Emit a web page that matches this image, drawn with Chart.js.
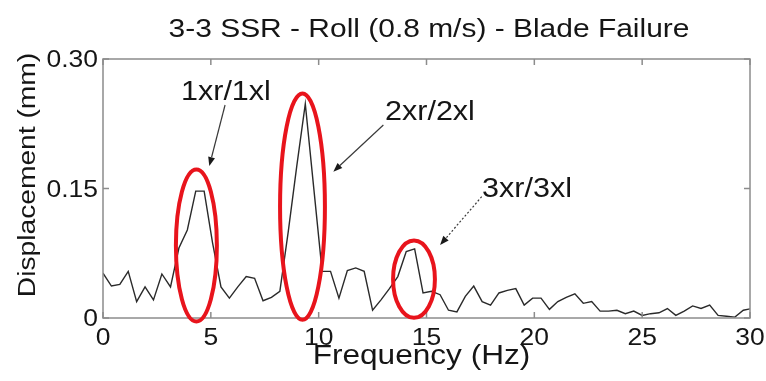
<!DOCTYPE html>
<html>
<head>
<meta charset="utf-8">
<script src="https://cdn.jsdelivr.net/npm/chart.js@4/dist/chart.umd.min.js"></script>
<style>
  html, body { margin: 0; padding: 0; background: #ffffff; }
  #wrap { width: 766px; height: 381px; }
</style>
</head>
<body>
<div id="wrap"><canvas id="c" width="766" height="381"></canvas></div>
<script>
// Spectrum of the roll displacement, one point per frequency bin
const freqHz = [0.00,0.39,0.78,1.17,1.56,1.95,2.34,2.73,3.13,3.52,
  3.91,4.30,4.69,5.08,5.47,5.86,6.25,6.64,7.03,7.42,
  7.81,8.20,8.59,8.98,9.38,9.77,10.16,10.55,10.94,11.33,
  11.72,12.11,12.50,12.89,13.28,13.67,14.06,14.45,14.84,15.23,
  15.63,16.02,16.41,16.80,17.19,17.58,17.97,18.36,18.75,19.14,
  19.53,19.92,20.31,20.70,21.09,21.48,21.88,22.27,22.66,23.05,
  23.44,23.83,24.22,24.61,25.00,25.39,25.78,26.17,26.56,26.95,
  27.34,27.73,28.13,28.52,28.91,29.30,29.69,30.08];
const dispMm = [0.052,0.037,0.039,0.054,0.019,0.036,0.021,0.051,0.036,0.081,
  0.102,0.147,0.147,0.087,0.036,0.023,0.036,0.048,0.046,0.020,
  0.024,0.031,0.100,0.175,0.248,0.151,0.054,0.054,0.023,0.055,
  0.058,0.054,0.009,0.021,0.034,0.048,0.077,0.080,0.029,0.031,
  0.027,0.009,0.007,0.025,0.037,0.019,0.015,0.029,0.032,0.034,
  0.015,0.023,0.023,0.010,0.019,0.024,0.028,0.017,0.019,0.008,
  0.008,0.009,0.005,0.008,0.003,0.005,0.006,0.011,0.003,0.008,
  0.014,0.011,0.015,0.003,0.002,0.001,0.009,0.011];

const xTicks = [0, 5, 10, 15, 20, 25, 30];
const xTickLabels = ['0', '5', '10', '15', '20', '25', '30'];
const yTicks = [0, 0.15, 0.30];
const yTickLabels = ['0', '0.15', '0.30'];

const titleText = '3-3 SSR - Roll (0.8 m/s) - Blade Failure';
const xTitle = 'Frequency (Hz)';
const yTitle = 'Displacement (mm)';

// Harmonic callouts: label text and anchor (Hz, mm), arrow tail -> head,
// and the ring drawn round each peak (centre and half-axes in Hz / mm)
const peakLabels = ['1xr/1xl', '2xr/2xl', '3xr/3xl'];
const labelAt = [[5.70, 0.2525], [15.16, 0.2299], [19.66, 0.1407]];
const arrowFrom = [[5.66, 0.2467], [13.00, 0.2236], [17.56, 0.1405]];
const arrowTo = [[4.93, 0.1761], [10.68, 0.1695], [15.63, 0.0846]];
const arrowDash = [[], [], [2, 2]];
const ringCentre = [[4.33, 0.084], [9.25, 0.129], [14.42, 0.045]];
const ringRadius = [[0.95, 0.088], [1.04, 0.131], [0.97, 0.0448]];

const FONT = '"Liberation Sans", Arial, Helvetica, sans-serif';
const INK = '#151515';

const points = freqHz.map((f, i) => ({ x: f, y: dispMm[i] }));

// text in a slightly wide Helvetica-like face: stretched along its run
function text(ctx, str, x, y, size, sx, align, rot) {
  ctx.save();
  ctx.translate(x, y);
  if (rot) ctx.rotate(rot);
  ctx.scale(sx, 1);
  ctx.font = size + 'px ' + FONT;
  ctx.fillStyle = INK;
  ctx.textAlign = align;
  ctx.textBaseline = 'alphabetic';
  ctx.fillText(str, 0, 0);
  ctx.restore();
}

function arrow(ctx, x0, y0, x1, y1, dash) {
  ctx.save();
  ctx.strokeStyle = '#3a3a3a';
  ctx.fillStyle = '#1a1a1a';
  ctx.lineWidth = 1.2;
  ctx.setLineDash(dash);
  const ang = Math.atan2(y1 - y0, x1 - x0);
  const hl = 9, hw = 3.5;
  const bx = x1 - hl * Math.cos(ang), by = y1 - hl * Math.sin(ang);
  ctx.beginPath();
  ctx.moveTo(x0, y0);
  ctx.lineTo(bx, by);
  ctx.stroke();
  ctx.setLineDash([]);
  ctx.beginPath();
  ctx.moveTo(x1, y1);
  ctx.lineTo(bx + hw * Math.sin(ang), by - hw * Math.cos(ang));
  ctx.lineTo(bx - hw * Math.sin(ang), by + hw * Math.cos(ang));
  ctx.closePath();
  ctx.fill();
  ctx.restore();
}

const overlay = {
  id: 'overlay',
  afterDatasetsDraw(chart) {
    const { ctx, chartArea: a, scales: { x, y } } = chart;
    ctx.save();

    // axes box with inward tick marks on all four sides
    ctx.strokeStyle = '#8c8c8c';
    ctx.lineWidth = 1.5;
    ctx.strokeRect(a.left, a.top, a.right - a.left, a.bottom - a.top);
    ctx.beginPath();
    xTicks.forEach(v => {
      const px = x.getPixelForValue(v);
      ctx.moveTo(px, a.bottom); ctx.lineTo(px, a.bottom - 6);
      ctx.moveTo(px, a.top); ctx.lineTo(px, a.top + 6);
    });
    yTicks.forEach(v => {
      const py = y.getPixelForValue(v);
      ctx.moveTo(a.left, py); ctx.lineTo(a.left + 6, py);
      ctx.moveTo(a.right, py); ctx.lineTo(a.right - 6, py);
    });
    ctx.stroke();

    // tick labels
    xTicks.forEach((v, i) => text(ctx, xTickLabels[i], x.getPixelForValue(v), a.bottom + 26.5, 23, 1.15, 'center'));
    yTicks.forEach((v, i) => text(ctx, yTickLabels[i], a.left - 5, y.getPixelForValue(v) + 8.2, 23, 1.15, 'right'));

    // red rings round the harmonic peaks
    ctx.strokeStyle = '#e8141c';
    ctx.lineWidth = 4;
    ringCentre.forEach((c, i) => {
      const cx = x.getPixelForValue(c[0]);
      const cy = y.getPixelForValue(c[1]);
      const rx = x.getPixelForValue(c[0] + ringRadius[i][0]) - cx;
      const ry = cy - y.getPixelForValue(c[1] + ringRadius[i][1]);
      ctx.beginPath();
      ctx.ellipse(cx, cy, rx, ry, 0, 0, Math.PI * 2);
      ctx.stroke();
    });

    // callout arrows and labels
    peakLabels.forEach((t, i) => {
      arrow(ctx,
        x.getPixelForValue(arrowFrom[i][0]), y.getPixelForValue(arrowFrom[i][1]),
        x.getPixelForValue(arrowTo[i][0]), y.getPixelForValue(arrowTo[i][1]),
        arrowDash[i]);
      text(ctx, t, x.getPixelForValue(labelAt[i][0]), y.getPixelForValue(labelAt[i][1]), 28, 1.09, 'center');
    });

    // title and axis titles
    text(ctx, titleText, 429, 36.7, 25.6, 1.17, 'center');
    text(ctx, xTitle, (a.left + a.right) / 2 - 5, 364, 27, 1.17, 'center');
    text(ctx, yTitle, 35, 175, 23.5, 1.2, 'center', -Math.PI / 2);
    ctx.restore();
  }
};

new Chart(document.getElementById('c'), {
  type: 'line',
  data: {
    datasets: [{
      data: points,
      borderColor: '#2a2a2a',
      borderWidth: 1.4,
      pointRadius: 0,
      tension: 0,
      fill: false
    }]
  },
  options: {
    responsive: false,
    animation: false,
    events: [],
    layout: { padding: { left: 0, right: 16, top: 59, bottom: 0 } },
    plugins: {
      legend: { display: false },
      tooltip: { enabled: false },
      title: { display: false }
    },
    scales: {
      x: {
        type: 'linear',
        min: 0,
        max: 30,
        afterFit: s => { s.height = 63; },
        afterBuildTicks: s => { s.ticks = xTicks.map(v => ({ value: v })); },
        ticks: { display: false },
        grid: { display: false, drawTicks: false },
        border: { display: false },
        title: { display: false }
      },
      y: {
        type: 'linear',
        min: 0,
        max: 0.3,
        afterFit: s => { s.width = 103; },
        afterBuildTicks: s => { s.ticks = yTicks.map(v => ({ value: v })); },
        ticks: { display: false },
        grid: { display: false, drawTicks: false },
        border: { display: false },
        title: { display: false }
      }
    }
  },
  plugins: [overlay]
});
</script>
</body>
</html>
